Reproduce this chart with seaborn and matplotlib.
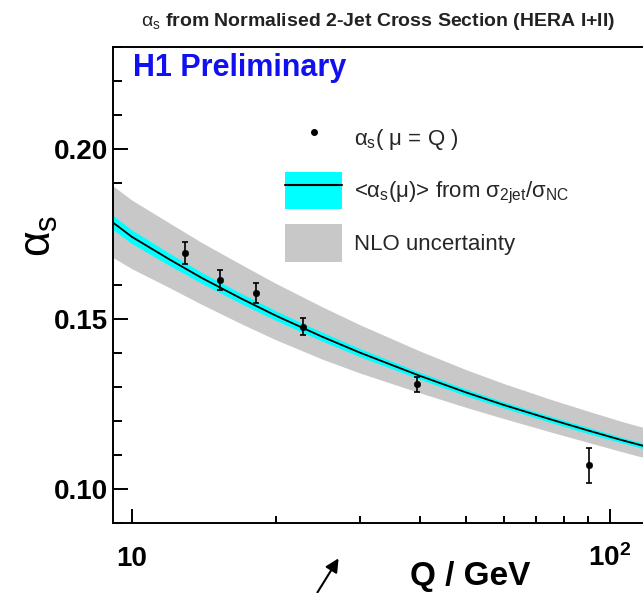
"""alpha_s running from normalised 2-jet cross section (H1 preliminary)"""
import numpy as np
import pandas as pd
import matplotlib
matplotlib.use('Agg')
import matplotlib.pyplot as plt
import seaborn as sns
from matplotlib.patches import Patch, FancyArrowPatch
from matplotlib.lines import Line2D
from matplotlib.ticker import MultipleLocator, LogLocator, NullFormatter

# --- data ---
q_curve = [9.13, 10, 12, 14, 17, 20, 25, 30, 40, 50, 60, 75, 90, 105, 118]
alpha_curve = [0.1785, 0.1743, 0.1676, 0.1622, 0.1560, 0.1511, 0.1449, 0.1402,
               0.1334, 0.1285, 0.1248, 0.1206, 0.1173, 0.1146, 0.1127]
fit_halfwidth = [0.0021, 0.0020, 0.0018, 0.0016, 0.0015, 0.0014, 0.0013, 0.0012,
                 0.0010, 0.0010, 0.0009, 0.0009, 0.0009, 0.0008, 0.0008]
nlo_upper = [0.1893, 0.1851, 0.1783, 0.1726, 0.1660, 0.1606, 0.1537, 0.1484,
             0.1407, 0.1352, 0.1311, 0.1265, 0.1230, 0.1201, 0.1181]
nlo_lower = [0.1682, 0.1649, 0.1593, 0.1544, 0.1486, 0.1440, 0.1383, 0.1342,
             0.1284, 0.1241, 0.1208, 0.1169, 0.1138, 0.1112, 0.1093]

q_points = [12.9, 15.3, 18.2, 22.8, 39.4, 90.4]
alpha_points = [0.1696, 0.1615, 0.1578, 0.1478, 0.1309, 0.1071]
alpha_errors = [0.0032, 0.0030, 0.0030, 0.0025, 0.0022, 0.0051]

curve = pd.DataFrame({'Q': q_curve, 'alpha': alpha_curve,
                      'half': fit_halfwidth, 'up': nlo_upper, 'lo': nlo_lower})
points = pd.DataFrame({'Q': q_points, 'alpha': alpha_points, 'err': alpha_errors})

# --- style ---
sns.set_theme(style='ticks')
plt.rcParams['font.family'] = ['Liberation Sans', 'DejaVu Sans']
plt.rcParams['mathtext.fontset'] = 'custom'
plt.rcParams['mathtext.rm'] = 'Liberation Sans'
plt.rcParams['mathtext.it'] = 'Liberation Sans'
plt.rcParams['mathtext.bf'] = 'Liberation Sans:bold'
plt.rcParams['axes.linewidth'] = 1.4

GREY = '#c8c8c8'
CYAN = '#00ffff'

fig = plt.figure(figsize=(6.43, 5.93), dpi=100)
fig.patch.set_facecolor('white')
ax = fig.add_axes([0.1753, 0.1175, 0.8247, 0.8027])
ax.set_facecolor('white')
ax.set_xscale('log')

# bands, line and points
ax.fill_between(curve['Q'], curve['lo'], curve['up'], color=GREY, lw=0, zorder=1)
ax.fill_between(curve['Q'], curve['alpha'] - curve['half'], curve['alpha'] + curve['half'],
                color=CYAN, lw=0, zorder=2)
sns.lineplot(data=curve, x='Q', y='alpha', ax=ax, color='black', lw=1.3, zorder=3)
ax.errorbar(points['Q'], points['alpha'], yerr=points['err'], fmt='none',
            ecolor='black', elinewidth=1.2, capsize=2.5, capthick=1.2, zorder=4)
sns.scatterplot(data=points, x='Q', y='alpha', ax=ax, color='black', s=22,
                edgecolor='black', zorder=5)

# axes
ax.set_xlim(9.126, 117.2)
ax.set_ylim(0.09, 0.23)
ax.spines['right'].set_visible(False)
for sp in ax.spines.values():
    sp.set_color('black')

ax.tick_params(axis='both', which='both', direction='in', color='black', width=1.4,
               top=False, right=False, labelcolor='black')
ax.tick_params(axis='y', which='major', length=10.8, pad=3.4, labelsize=20)
ax.tick_params(axis='y', which='minor', length=6.5)
ax.tick_params(axis='x', which='major', length=10, pad=30.5, labelsize=20)
ax.tick_params(axis='x', which='minor', length=5)

ax.set_yticks([0.10, 0.15, 0.20], labels=['0.10', '0.15', '0.20'], fontweight='bold')
ax.yaxis.set_minor_locator(MultipleLocator(0.01))
ax.set_xticks([10, 100], labels=['10', r'$\mathbf{10^{2}}$'], fontweight='bold', va='baseline')
ax.xaxis.set_minor_locator(LogLocator(base=10, subs=np.arange(2, 10)))
ax.xaxis.set_minor_formatter(NullFormatter())

ax.set_xlabel('Q / GeV', fontsize=24, fontweight='bold', ha='right', va='baseline',
              color='black')
ax.xaxis.set_label_coords(0.787, -0.1295)
ax.set_ylabel(r'$\alpha_s$', fontsize=32, va='center', color='black')
ax.yaxis.set_label_coords(-0.139, 0.604)

ax.text(0.0388, 0.9874, 'H1 Preliminary', transform=ax.transAxes, ha='left', va='top',
        fontsize=22, fontweight='bold', color='#1010f0')

fig.text(0.588, 0.963, r'$\alpha_s$ from Normalised 2-Jet Cross Section (HERA I+II)',
         ha='center', va='center', fontsize=14, fontweight='bold', color='#222222')

# legend
handles = [
    Line2D([], [], marker='o', color='black', ls='none', markersize=4),
    (Patch(facecolor=CYAN, edgecolor='none'), Line2D([], [], color='black', lw=1.5)),
    Patch(facecolor=GREY, edgecolor='none'),
]
labels = [r'$\alpha_s$( $\mu$ = Q )',
          r'<$\alpha_s(\mu)$> from $\sigma_{2jet}/\sigma_{NC}$',
          'NLO uncertainty']
ax.legend(handles, labels, loc='upper left', bbox_to_anchor=(0.325, 0.848),
          frameon=False, borderpad=0, borderaxespad=0, fontsize=16,
          handlelength=2.57, handleheight=2.2, handletextpad=0.54, labelspacing=0.68)

# arrow below the axis
fig.add_artist(FancyArrowPatch((0.4914, -0.003), (0.5288, 0.0624), transform=fig.transFigure,
                               arrowstyle='-|>', mutation_scale=20, color='black', lw=1.5))

fig.savefig('out.png', dpi=100, facecolor='white')
